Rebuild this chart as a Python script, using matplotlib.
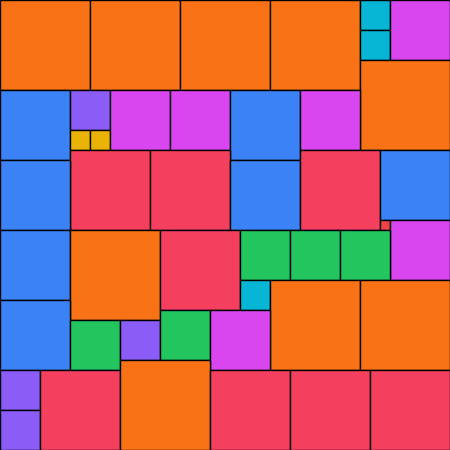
import matplotlib
matplotlib.use("Agg")
import matplotlib.pyplot as plt
from matplotlib.patches import Rectangle

# square tiles: left, top (pixels from top-left) and side length
left = [0, 90, 180, 270, 360, 360, 390, 360,
        0, 70, 70, 90, 110, 170, 230, 300,
        70, 150, 0, 230, 300, 380, 380, 390,
        0, 70, 160, 240, 290, 340, 240, 270, 360,
        0, 70, 120, 160, 210,
        0, 0, 40, 120, 210, 290, 370]
top = [0, 0, 0, 0, 0, 30, 0, 60,
       90, 90, 130, 130, 90, 90, 90, 90,
       150, 150, 160, 160, 150, 150, 220, 220,
       230, 230, 230, 230, 230, 230, 280, 280, 280,
       300, 320, 320, 310, 310,
       370, 410, 370, 360, 370, 370, 370]
side = [90, 90, 90, 90, 30, 30, 60, 90,
        70, 40, 20, 20, 60, 60, 70, 60,
        80, 80, 70, 70, 80, 70, 10, 60,
        70, 90, 80, 50, 50, 50, 30, 90, 90,
        70, 50, 40, 50, 60,
        40, 40, 80, 90, 80, 80, 80]

size_colors = {90: "#f97316", 80: "#f43f5e", 70: "#3b82f6", 60: "#d946ef",
               50: "#22c55e", 40: "#8b5cf6", 30: "#06b6d4", 20: "#eab308",
               10: "#ef4444"}

fig = plt.figure(figsize=(4.5, 4.5), dpi=100)
ax = fig.add_axes([0, 0, 1, 1])
for x, y, s in zip(left, top, side):
    ax.add_patch(Rectangle((x, y), s, s, facecolor=size_colors[s],
                           edgecolor="black", linewidth=1.0))
ax.set_xlim(0, 450)
ax.set_ylim(450, 0)
ax.axis("off")
fig.savefig("out.png", dpi=100)
